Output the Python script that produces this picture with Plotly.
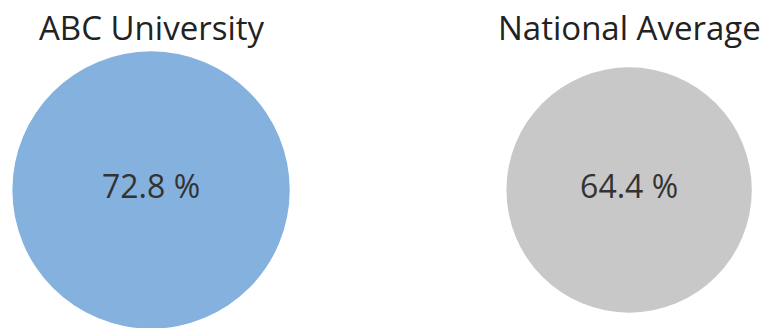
import plotly.graph_objects as go

groups = ["ABC University", "National Average"]
rates = [72.8, 64.4]
labels = ["72.8 %", "64.4 %"]
colors = ["#84B1DE", "#C8C8C8"]

fig = go.Figure()
fig.add_trace(go.Scatter(
    x=groups,
    y=[0, 0],
    mode="markers+text",
    text=labels,
    textposition="middle center",
    textfont=dict(family="Open Sans", size=32, color="#333333"),
    marker=dict(size=rates, sizemode="diameter", sizeref=1 / 3.81,
                color=colors, line=dict(width=0), opacity=1),
    cliponaxis=False,
    hoverinfo="skip",
    showlegend=False,
))

for g in groups:
    fig.add_annotation(
        x=g, y=1, xref="x", yref="paper",
        text=g, showarrow=False,
        xanchor="center", yanchor="bottom", yshift=0,
        font=dict(family="Open Sans", size=33, color="#222222"),
    )

fig.update_layout(
    width=773, height=328,
    margin=dict(l=0, r=0, t=52, b=0),
    paper_bgcolor="white", plot_bgcolor="white",
    xaxis=dict(type="category", range=[-0.316, 1.301], visible=False, fixedrange=True),
    yaxis=dict(range=[-1, 1], visible=False, fixedrange=True),
)

fig.write_html("out.html")
